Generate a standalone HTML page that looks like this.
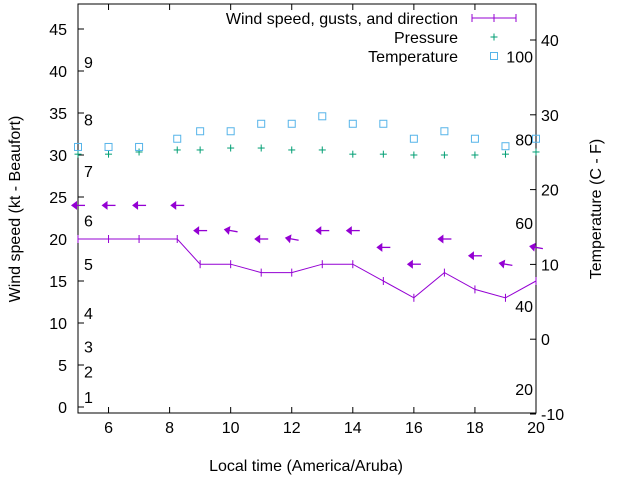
<!DOCTYPE html>
<html><head><meta charset="utf-8"><style>
body{margin:0;background:#fff;}
svg{display:block;font-family:"Liberation Sans",sans-serif;}
</style></head><body>
<svg id="chart" width="640" height="480" viewBox="0 0 640 480"></svg>
<script>
const hours=[5,6,7,8.25,9,10,11,12,13,14,15,16,17,18,19,20];
const windSpeed=[20,20,20,20,17,17,16,16,17,17,15,13,16,14,13,15];
const gusts=[24,24,24,24,21,21,20,20,21,21,19,17,20,18,17,19];
const windDir=[90,90,90,90,90,100,90,100,90,90,90,90,90,90,100,100];
const pressure=[30.1,30.1,30.36,30.6,30.6,30.83,30.83,30.6,30.6,30.1,30.1,30.0,30.0,30.0,30.1,30.36];
const temperature=[25.7,25.7,25.7,26.8,27.8,27.8,28.8,28.8,29.8,28.8,28.8,26.8,27.8,26.8,25.8,26.8];
const xTicks=[6,8,10,12,14,16,18,20];
const yTicks=[0,5,10,15,20,25,30,35,40,45];
const y2Ticks=[-10,0,10,20,30,40];
const beaufortLabels=["1","2","3","4","5","6","7","8","9"];
const beaufortY=[1.2,4.2,7.2,11.2,17,22.2,28.1,34.2,41.1];
const fahrLabels=["20","40","60","80","100"];
const fahrC=[-6.67,4.44,15.56,26.67,37.78];

const L=78,R=536,T=4,B=413;
const X=v=>L+(v-5)/15*(R-L);
const Y=v=>407-v*8.4;
const Y2=v=>414-(v+10)*7.48;
const svg=document.getElementById('chart');
const NS='http://www.w3.org/2000/svg';
function mk(tag,attrs,parent){const e=document.createElementNS(NS,tag);for(const k in attrs)e.setAttribute(k,attrs[k]);(parent||svg).appendChild(e);return e;}
function txt(x,y,s,anchor,size){const t=mk('text',{x:x,y:y,'text-anchor':anchor||'middle','font-size':size||16,fill:'#000'});t.textContent=s;return t;}

let e=mk('rect',{x:L,y:T,width:R-L,height:B-T,fill:'none',stroke:'#000','stroke-width':1});



xTicks.forEach(v=>{const x=X(v);
 mk('line',{x1:x,y1:B,x2:x,y2:B-6,stroke:'#000'});mk('line',{x1:x,y1:T,x2:x,y2:T+6,stroke:'#000'});
 const t=txt(x,B+20,String(v));});
yTicks.forEach(v=>{const y=Y(v);
 mk('line',{x1:L,y1:y,x2:L+6,y2:y,stroke:'#000'});
 const t=txt(L-11,y+6,String(v),'end');});
y2Ticks.forEach(v=>{const y=Y2(v);
 mk('line',{x1:R,y1:y,x2:R-6,y2:y,stroke:'#000'});
 const t=txt(R+5,y+6,String(v),'start');});
beaufortLabels.forEach((s,i)=>{const t=txt(84,Y(beaufortY[i])+6,s,'start');
 });
fahrLabels.forEach((s,i)=>{const t=txt(533,Y2(fahrC[i])+6,s,'end');
 });

e=txt(20,209,'Wind speed (kt - Beaufort)');e.setAttribute('transform','rotate(-90 20 209)');

e=txt(601,209,'Temperature (C - F)');e.setAttribute('transform','rotate(-90 601 209)');

e=txt(306,471,'Local time (America/Aruba)');


const purple='#9400d3',green='#009e73',blue='#56b4e9';
e=mk('polyline',{points:hours.map((h,i)=>X(h)+','+Y(windSpeed[i])).join(' '),fill:'none',stroke:purple,'stroke-width':1});


hours.forEach((h,i)=>{const p=mk('line',{x1:X(h),y1:Y(windSpeed[i])-4,x2:X(h),y2:Y(windSpeed[i])+4,stroke:purple});
 });
hours.forEach((h,i)=>{const cx=X(h),cy=Y(gusts[i]);
 const g=mk('g',{transform:`translate(${cx},${cy}) rotate(${windDir[i]-90})`});
 
 mk('line',{x1:-2,y1:0,x2:7,y2:0,stroke:purple,'stroke-width':1.3},g);
 mk('polygon',{points:'-7,0 -1,-4.5 -1,4.5',fill:purple},g);
});
hours.forEach((h,i)=>{const x=X(h),y=Y(pressure[i]);const g=mk('g',{stroke:green,'stroke-width':1});
 
 mk('line',{x1:x-3.5,y1:y,x2:x+3.5,y2:y},g);mk('line',{x1:x,y1:y-3.5,x2:x,y2:y+3.5},g);});
hours.forEach((h,i)=>{const x=X(h),y=Y2(temperature[i]);
 const s=mk('rect',{x:x-3.5,y:y-3.5,width:7,height:7,fill:'none',stroke:blue,'stroke-width':1});
 });
const lg=mk('g',{});
[['Wind speed, gusts, and direction',18],['Pressure',37],['Temperature',56]].forEach(([s,y])=>{
 const t=mk('text',{x:458,y:y+6,'text-anchor':'end','font-size':16},lg);t.textContent=s;
 });
mk('line',{x1:472,y1:18,x2:516,y2:18,stroke:purple},lg);
[472,494,516].forEach(x=>mk('line',{x1:x,y1:14,x2:x,y2:22,stroke:purple},lg));
mk('line',{x1:490.5,y1:37,x2:497.5,y2:37,stroke:green},lg);mk('line',{x1:494,y1:33.5,x2:494,y2:40.5,stroke:green},lg);
mk('rect',{x:490.5,y:52.5,width:7,height:7,fill:'none',stroke:blue},lg);
</script>
</body></html>
